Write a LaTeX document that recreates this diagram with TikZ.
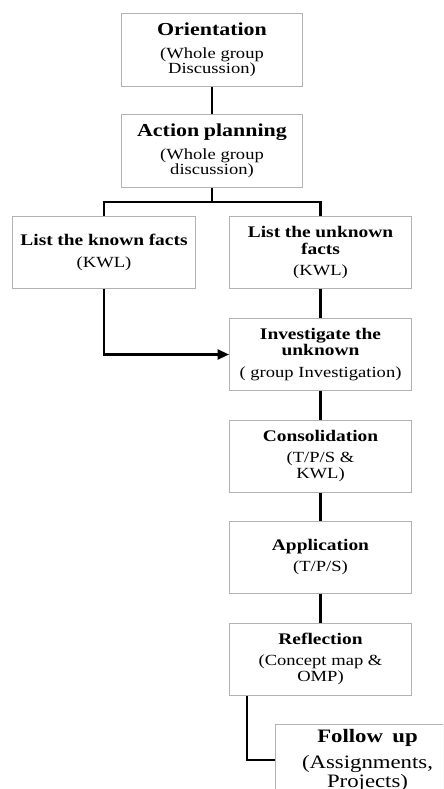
\documentclass[tikz,border=0pt]{standalone}
\usepackage{fontspec}
\setmainfont{Liberation Serif}[FakeStretch=1.2]
\usetikzlibrary{arrows.meta, calc, shadows}

\newcommand{\stagehead}[2]{{\fontsize{#1}{#1}\selectfont\bfseries #2\par}}
\newcommand{\stagenote}[2]{{\fontsize{#1}{#1}\selectfont #2\par}}

\tikzset{
  stage/.style={draw=gray!60, line width=0.7pt, fill=white,
    drop shadow={shadow xshift=0.6pt, shadow yshift=-0.6pt, fill=gray!45, opacity=1},
    minimum width=4.5cm, minimum height=1.8cm, text width=4.4cm, align=center, inner sep=1pt},
  link/.style={line width=1.6pt, black}
}

\begin{document}
\begin{tikzpicture}[x=0.025cm, y=-0.025cm]
        \useasboundingbox (0,0) rectangle (443,789);
        \clip (0,0) rectangle (443,789);

        \node[stage] (orient) at (212,50)
          {\stagehead{13}{Orientation}\vspace{5pt}\stagenote{11}{(Whole group\\Discussion)}};
        \node[stage] (action) at (212,151)
          {\stagehead{13}{Action planning}\vspace{5pt}\stagenote{11}{(Whole group\\discussion)}};
        \node[stage, minimum width=4.55cm] (known) at (104,252.5)
          {\stagehead{11.5}{List the known facts}\vspace{5pt}\stagenote{11}{(KWL)}};
        \node[stage, minimum width=4.55cm] (unknown) at (320.5,252.5)
          {\stagehead{11.5}{List the unknown\\facts}\vspace{4pt}\stagenote{11}{(KWL)}};
        \node[stage, minimum width=4.55cm] (invest) at (320.5,354.5)
          {\stagehead{11.5}{Investigate the\\unknown}\vspace{4pt}\stagenote{11}{( group Investigation)}};
        \node[stage, minimum width=4.55cm] (consol) at (320.5,456)
          {\stagehead{11.5}{Consolidation}\vspace{4pt}\stagenote{11}{(T/P/S \&\\KWL)}};
        \node[stage, minimum width=4.55cm] (applic) at (320.5,557)
          {\stagehead{11.5}{Application}\vspace{4pt}\stagenote{11}{(T/P/S)}};
        \node[stage, minimum width=4.55cm] (reflect) at (320.5,659)
          {\stagehead{11.5}{Reflection}\vspace{4pt}\stagenote{11}{(Concept map \&\\OMP)}};
        \node[stage, minimum width=4.6cm, text width=4.5cm, anchor=west] (follow) at (275,760)
          {\stagehead{13.5}{Follow\ \ up}\vspace{5pt}\stagenote{13.5}{(Assignments,\\Projects)}};

        \coordinate (split) at (212,202);

        \draw[link] (orient) -- (action);
        \draw[link] (action) -- (split);
        \draw[link] (known.north) |- (split) -| (unknown.north);
        \draw[link] (unknown) -- (invest);
        \draw[link, -{Triangle[length=8pt, width=7pt]}] (known.south) |- (invest.west);
        \draw[link] (invest) -- (consol);
        \draw[link] (consol) -- (applic);
        \draw[link] (applic) -- (reflect);
        \draw[link] ($(reflect.south west)!0.1!(reflect.south east)$) |- (follow.west);
\end{tikzpicture}
\end{document}
